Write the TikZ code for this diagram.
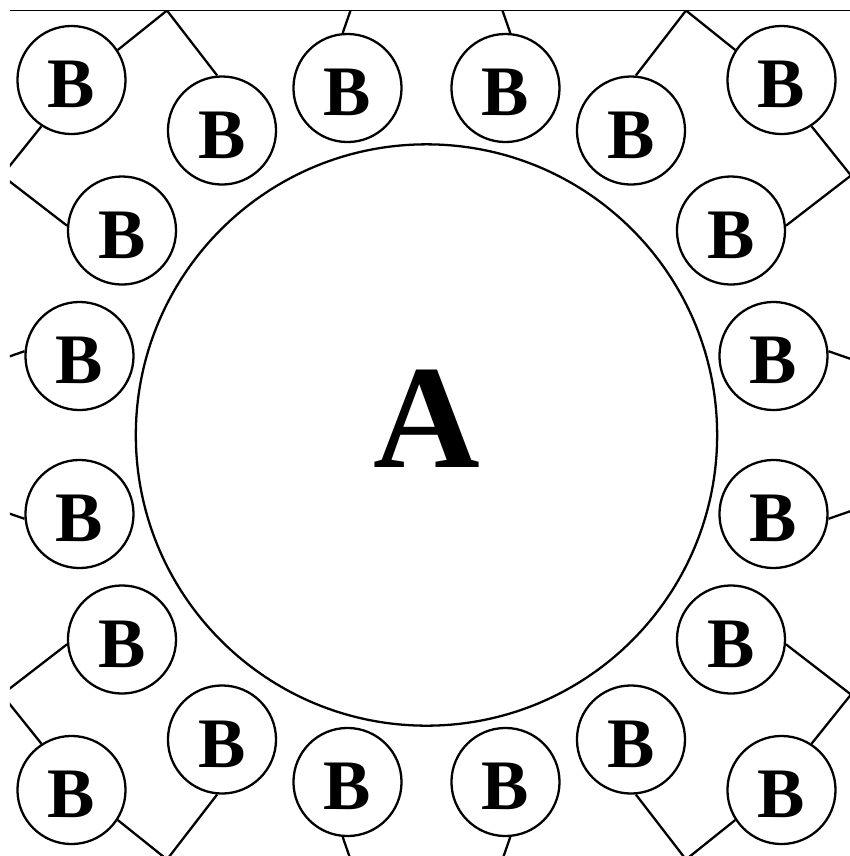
\documentclass[tikz,border=0pt]{standalone}
\usepackage{fontspec}
\setmainfont{Liberation Serif}

\begin{document}
\begin{tikzpicture}[
  x=0.01cm, y=0.01cm,
  line width=0.65pt,
  site/.style={draw,circle,inner sep=0pt,minimum size=1.08cm,text height=0.56cm,font=\fontsize{20.2}{24}\selectfont\bfseries},
  hub/.style={draw,circle,inner sep=0pt,minimum size=5.81cm,text depth=0.32cm,font=\fontsize{42}{50}\selectfont\bfseries},
  frame/.style={line width=0.35pt}
]
\useasboundingbox (-426.5,-421) rectangle (423.5,435);
\node[hub] (hub) at (0,0) {A};
% top side
\node[site] (cNW) at (-355,355) {B};
\node[site] (tA) at (-204.5,304.5) {B};
\node[site] (tB) at (-79,347) {B};
\node[site] (tC) at (79,347) {B};
\node[site] (tD) at (204.5,304.5) {B};
\node[site] (cNE) at (355,355) {B};
% right side
\node[site] (rA) at (304.5,204.5) {B};
\node[site] (rB) at (347,79) {B};
\node[site] (rC) at (347,-79) {B};
\node[site] (rD) at (304.5,-204.5) {B};
% bottom side
\node[site] (cSE) at (355,-355) {B};
\node[site] (bD) at (204.5,-304.5) {B};
\node[site] (bC) at (79,-347) {B};
\node[site] (bB) at (-79,-347) {B};
\node[site] (bA) at (-204.5,-304.5) {B};
\node[site] (cSW) at (-355,-355) {B};
% left side
\node[site] (lD) at (-304.5,-204.5) {B};
\node[site] (lC) at (-347,-79) {B};
\node[site] (lB) at (-347,79) {B};
\node[site] (lA) at (-304.5,204.5) {B};
% frame line
\coordinate (frameL) at (-416.5,424.5);
\coordinate (frameR) at (423.5,424.5);
\draw[frame] (frameL) -- (frameR);
% junctions
\coordinate (jTL) at (-259.5,424.5);
\coordinate (jTR) at (259.5,424.5);
\coordinate (jRT) at (424.5,259.5);
\coordinate (jRB) at (424.5,-259.5);
\coordinate (jBR) at (259.5,-424.5);
\coordinate (jBL) at (-259.5,-424.5);
\coordinate (jLB) at (-424.5,-259.5);
\coordinate (jLT) at (-424.5,259.5);
% stub ends
\path (tB.95) ++(70.8:60) coordinate (tBend);
\path (tC.85) ++(109.2:60) coordinate (tCend);
\path (rB.5) ++(-19.2:60) coordinate (rBend);
\path (rC.355) ++(19.2:60) coordinate (rCend);
\path (bC.275) ++(250.8:60) coordinate (bCend);
\path (bB.265) ++(289.2:60) coordinate (bBend);
\path (lC.185) ++(160.8:60) coordinate (lCend);
\path (lB.175) ++(199.2:60) coordinate (lBend);
\begin{scope}
  \clip (-416.5,-421) rectangle (423.5,424.5);
  \draw (cNW.33) -- (jTL) -- (tA.95);
  \draw (cNE.147) -- (jTR) -- (tD.85);
  \draw (cNE.303) -- (jRT) -- (rA.5);
  \draw (cSE.57) -- (jRB) -- (rD.355);
  \draw (cSE.213) -- (jBR) -- (bD.275);
  \draw (cSW.327) -- (jBL) -- (bA.265);
  \draw (cSW.123) -- (jLB) -- (lD.185);
  \draw (cNW.237) -- (jLT) -- (lA.175);
  \draw (tB.95) -- (tBend);
  \draw (tC.85) -- (tCend);
  \draw (rB.5) -- (rBend);
  \draw (rC.355) -- (rCend);
  \draw (bC.275) -- (bCend);
  \draw (bB.265) -- (bBend);
  \draw (lC.185) -- (lCend);
  \draw (lB.175) -- (lBend);
\end{scope}
\end{tikzpicture}
\end{document}
